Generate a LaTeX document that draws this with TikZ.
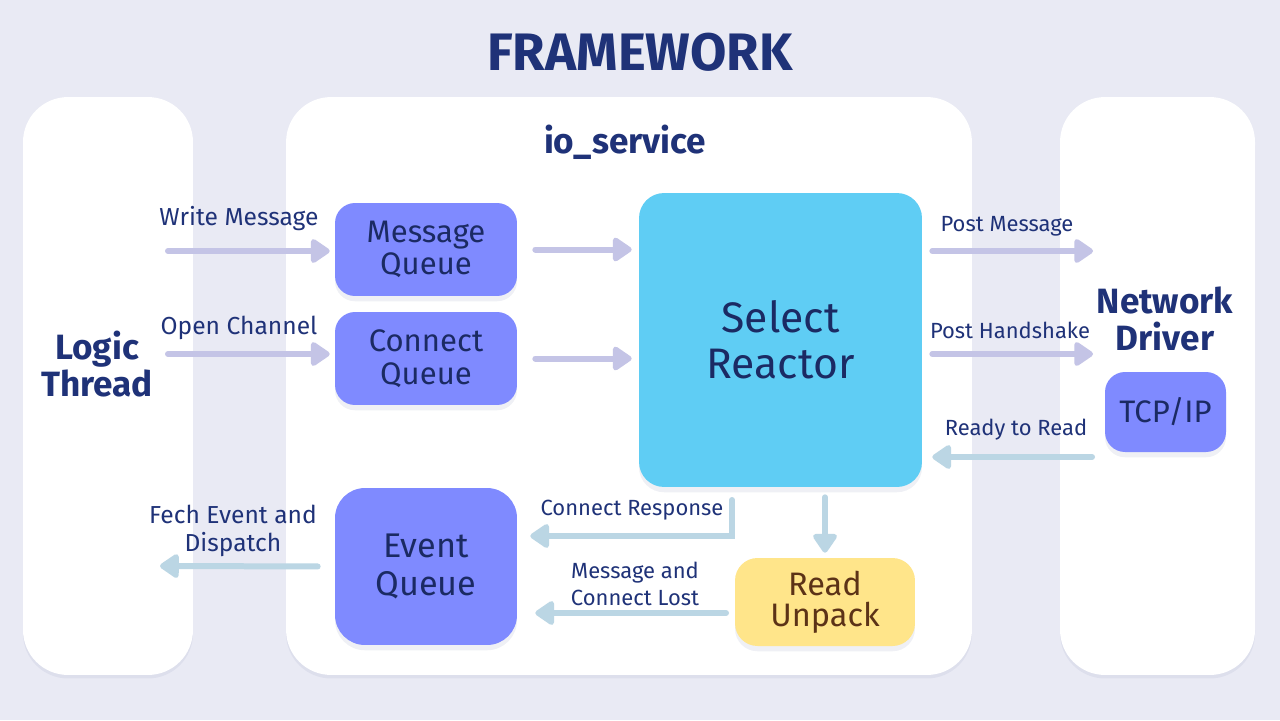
\documentclass[tikz,border=0pt]{standalone}
\usepackage{fontspec}
\setmainfont{Fira Sans}
\usetikzlibrary{arrows.meta,shadows}

\definecolor{bgcol}{HTML}{E9EAF4}
\definecolor{navy}{HTML}{1F3278}
\definecolor{boxtext}{HTML}{1B2A63}
\definecolor{queuecol}{HTML}{7F8AFF}
\definecolor{reactcol}{HTML}{5FCDF4}
\definecolor{readcol}{HTML}{FFE58A}
\definecolor{brown}{HTML}{5C3317}
\definecolor{fwdcol}{HTML}{C4C4E6}
\definecolor{backcol}{HTML}{BBD6E4}

\begin{document}
\begin{tikzpicture}[x=0.02cm,y=-0.02cm,
  panel/.style={fill=white,rounded corners=0.9cm,inner sep=0pt,
    drop shadow={shadow xshift=0pt,shadow yshift=-2pt,opacity=0.06,fill=navy}},
  queue/.style={fill=queuecol,rounded corners=0.4cm,text=boxtext,align=center,inner sep=0pt,
    font=\fontsize{17.7}{18.5}\selectfont,
    drop shadow={shadow xshift=0pt,shadow yshift=-3pt,opacity=0.07,fill=navy}},
  heading/.style={text=navy,align=center,font=\bfseries\fontsize{20}{21.5}\selectfont},
  lbl/.style={text=navy,align=center,font=\fontsize{12.5}{15}\selectfont},
  lblwide/.style={lbl,font=\fontsize{14}{16}\selectfont},
  fwd/.style={draw=fwdcol,line width=0.12cm,line cap=round,
    -{Triangle[round,length=0.42cm,width=0.54cm]}},
  back/.style={fwd,draw=backcol}]

\fill[bgcol] (0,0) rectangle (1280,720);
\useasboundingbox (0,0) rectangle (1280,720);

% panels
\node[panel,minimum width=3.4cm,minimum height=11.56cm] (lt) at (108,386) {};
\node[panel,minimum width=13.72cm,minimum height=11.56cm] (io) at (629,386) {};
\node[panel,minimum width=3.9cm,minimum height=11.56cm] (nd) at (1157.5,386) {};

\node[text=navy,font=\bfseries\fontsize{30}{32}\selectfont] (title) at (640,52) {FRAMEWORK};
\node[heading] (iolbl) at (625,142) {io\_service};
\node[heading] (ltlbl) at (97,364) {Logic\\Thread};
\node[heading] (ndlbl) at (1165,319) {Network\\Driver};

% boxes
\node[queue,minimum width=3.64cm,minimum height=1.86cm] (mq) at (426,249.5) {Message\\Queue};
\node[queue,minimum width=3.64cm,minimum height=1.86cm] (cq) at (426,358.5) {Connect\\Queue};
\node[queue,fill=reactcol,rounded corners=0.5cm,minimum width=5.66cm,minimum height=5.88cm,
  font=\fontsize{24.3}{26}\selectfont] (sr) at (780.5,340) {Select\\Reactor};
\node[queue,minimum width=2.42cm,minimum height=1.6cm] (tcp) at (1165.5,412) {TCP/IP};
\node[queue,rounded corners=0.6cm,minimum width=3.64cm,minimum height=3.14cm,
  font=\fontsize{19.5}{21.5}\selectfont] (eq) at (426,566.5) {Event\\Queue};
\node[queue,fill=readcol,text=brown,rounded corners=0.45cm,minimum width=3.6cm,minimum height=1.76cm,
  font=\fontsize{18.5}{17.5}\selectfont] (ru) at (825,602) {Read\\Unpack};

% labels
\node[lblwide] (wmlbl) at (239,219) {Write Message};
\node[lblwide] (oclbl) at (239,328) {Open Channel};
\node[lbl] (pmlbl) at (1007,226) {Post Message};
\node[lbl] (phlbl) at (1010,330) {Post Handshake};
\node[lbl] (rrlbl) at (1016,430) {Ready to Read};
\node[lbl] (crlbl) at (632,510) {Connect Response};
\node[lbl] (mllbl) at (635,584) {Message and\\Connect Lost};
\node[lblwide] (felbl) at (233,531) {Fech Event and\\Dispatch};

% connectors
\coordinate (wm) at (168,251);
\coordinate (oc) at (168,354);
\coordinate (pm) at (1093,251);
\coordinate (ph) at (1093,354);
\coordinate (rr) at (1092,457);
\coordinate (cr) at (732,500);
\coordinate (crb) at (732,536);
\coordinate (ml) at (726,613);
\coordinate (fe) at (160,566);

\draw[fwd,shorten >=0.1cm] (wm) -- (wm -| mq.west);
\draw[fwd,shorten >=0.1cm] (oc) -- (oc -| cq.west);
\draw[fwd,shorten <=0.36cm,shorten >=0.14cm] (mq.east) -- (mq.east -| sr.west);
\draw[fwd,shorten <=0.36cm,shorten >=0.14cm] (cq.east) -- (cq.east -| sr.west);
\draw[fwd,shorten <=0.2cm] (pm -| sr.east) -- (pm);
\draw[fwd,shorten <=0.2cm] (ph -| sr.east) -- (ph);
\draw[back,shorten >=0.2cm] (rr) -- (rr -| sr.east);
\draw[back,shorten <=0.2cm,shorten >=0.1cm] (ru.north |- sr.south) -- (ru.north);
\draw[back,shorten >=0.26cm] (cr) -- (crb) -- (crb -| eq.east);
\draw[back,shorten >=0.36cm] (ml) -- (ml -| eq.east);
\draw[back,shorten <=0.34cm] (eq.west) -- (fe);
\end{tikzpicture}
\end{document}
